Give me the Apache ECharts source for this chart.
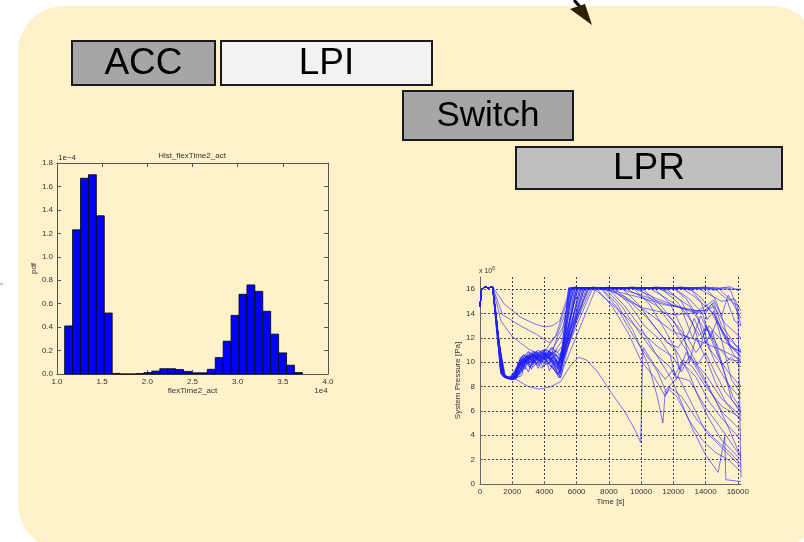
<!DOCTYPE html>
<html>
<head>
<meta charset="utf-8">
<script src="https://cdn.jsdelivr.net/npm/echarts@6/dist/echarts.min.js"></script>
<style>
  html, body { margin: 0; padding: 0; background: #ffffff; }
  #chart { width: 804px; height: 542px; }
</style>
</head>
<body>
<div id="chart"></div>
<script>
// ---- Histogram of flexTime2_act (x in 1e4, pdf in 1e-4) ----
const histBinStart = 1.0847;
const histBinWidth = 0.08773;
const histPdf = [
  0.41, 1.23, 1.67, 1.70, 1.35, 0.52, 0.005, 0.0, 0.0, 0.003,
  0.012, 0.025, 0.045, 0.045, 0.038, 0.022, 0.01, 0.01, 0.04, 0.14,
  0.28, 0.50, 0.68, 0.76, 0.705, 0.535, 0.34, 0.18, 0.075, 0.012
];
const histXTicks = [1.0, 1.5, 2.0, 2.5, 3.0, 3.5, 4.0];
const histYTicks = [0.0, 0.2, 0.4, 0.6, 0.8, 1.0, 1.2, 1.4, 1.6, 1.8];

// ---- System pressure runs: [time s, pressure 1e6 Pa] ----
const runStart = [[0, 14.6], [100, 16.0], [300, 16.2], [500, 16.1], [780, 16.2]];
const pressureRuns = [
  [[1050,13.0],[1350,9.0],[1700,8.7],[2300,8.7],[2450,10.2],[2700,9.6],[3000,10.6],[3300,9.8],[3700,10.9],[4200,11.0],[4600,10.3],[5000,9.3],[5500,16.1],[16200,16.0]],
  [[1100,12.5],[1400,8.9],[1800,8.6],[2200,8.7],[2350,10.0],[2600,9.2],[2900,10.5],[3200,9.4],[3500,10.7],[3900,9.6],[4300,10.9],[4800,9.0],[5050,9.6],[5700,16.1],[7500,16.1],[9000,15.4],[10500,14.0],[12000,12.5],[13500,11.8],[15000,11.0],[16200,10.2]],
  [[1000,13.5],[1300,9.1],[1600,8.8],[2000,8.6],[2600,8.9],[2800,10.2],[3100,9.5],[3400,10.6],[3800,9.9],[4100,10.8],[4500,9.6],[4900,8.7],[5100,9.8],[5900,16.1],[8000,16.1],[9000,15.2],[10000,14.5],[11000,14.2],[12000,13.9],[13000,14.0],[14000,14.3],[14500,14.9],[15000,13.0],[16200,10.8]],
  [[1100,12.0],[1500,8.8],[2000,8.7],[2400,9.0],[2700,10.0],[3000,9.2],[3300,10.3],[3600,9.5],[4000,10.7],[4300,9.3],[4700,10.2],[5000,9.0],[6000,16.1],[9500,16.1],[11000,15.2],[12000,14.7],[13000,14.2],[14000,14.0],[14400,14.8],[15000,12.5],[15800,10.5],[16200,10.0]],
  [[1500,14.8],[2500,13.7],[3500,13.1],[4000,12.9],[4500,13.0],[4950,13.4],[5600,16.1],[8500,16.1],[10000,15.5],[11500,14.8],[13000,14.3],[14000,14.2],[14500,14.6],[15200,13.2],[16200,12.0]],
  [[1400,13.9],[2500,13.0],[3500,12.3],[4300,11.6],[4700,12.2],[5700,16.1],[7000,16.1],[8500,15.8],[10000,15.3],[11500,14.7],[12500,14.5],[13500,14.2],[14000,14.6],[14500,14.0],[15500,11.5],[16200,10.5]],
  [[1300,13.4],[2000,12.1],[3000,11.1],[3800,10.5],[4400,11.6],[4800,12.3],[5900,16.1],[6500,16.1],[7200,15.9],[8000,15.0],[9000,13.8],[10000,12.5],[11000,11.3],[12000,10.4],[12500,9.2],[13000,10.5],[14000,9.0],[15000,7.0],[16200,5.6]],
  [[1100,11.5],[1500,8.8],[2200,8.6],[3000,8.0],[3700,7.8],[4400,8.0],[5000,8.4],[5600,9.7],[6100,10.4],[6600,10.2],[7300,9.2],[8200,7.4],[9000,5.9],[9600,4.5],[9975,3.4],[10100,10.8],[10150,11.2],[10800,9.8],[11500,8.6],[12000,9.4],[12200,8.8],[13000,8.5],[14000,6.3],[15000,4.5],[16200,2.2]],
  [[1050,12.8],[1400,8.9],[1900,8.6],[2400,9.5],[2700,10.1],[3200,10.4],[3600,9.7],[4000,10.8],[4600,9.8],[5000,9.2],[6200,16.1],[7600,16.0],[8500,14.8],[9500,12.6],[10500,9.6],[11000,7.2],[11350,5.0],[11500,7.6],[11700,8.0],[12500,7.2],[13500,5.2],[14500,3.8],[15500,2.6],[16200,1.6]],
  [[1000,13.8],[1300,9.3],[1600,8.8],[2100,8.6],[2500,9.8],[2900,10.4],[3400,10.0],[3900,10.9],[4400,10.1],[4950,9.5],[6400,16.1],[8000,16.0],[9000,14.6],[10000,12.8],[11000,10.5],[11900,8.6],[12500,6.7],[13200,4.5],[14000,2.4],[14780,0.95],[15190,3.9],[15260,0.35],[16200,0.2]],
  [[1100,12.2],[1450,8.8],[2000,8.7],[2300,9.6],[2800,10.3],[3300,10.9],[3700,10.3],[4200,11.0],[4700,10.4],[5050,10.0],[5600,16.0],[7500,16.1],[8500,14.5],[9500,12.2],[10200,10.8],[11000,9.3],[11600,7.4],[11800,8.1],[12300,8.8],[13000,7.0],[14000,4.3],[15000,3.0],[16200,1.4]],
  [[1150,11.8],[1500,8.8],[2000,8.6],[2300,9.3],[2600,10.5],[3000,9.8],[3500,10.6],[4000,10.0],[4500,10.8],[5000,9.6],[6000,16.1],[8200,16.0],[9200,14.9],[10200,13.0],[11200,11.8],[11800,10.6],[12100,8.9],[12600,10.2],[13200,9.6],[14000,8.0],[15000,6.4],[16200,5.4]],
  [[1050,13.2],[1350,9.0],[1700,8.7],[2200,8.8],[2500,10.4],[2800,9.4],[3100,10.8],[3600,10.2],[4000,11.1],[4400,10.5],[4800,12.1],[5200,13.0],[5600,16.1],[9000,16.1],[10000,15.4],[11000,14.6],[12000,13.4],[12800,12.0],[13300,13.6],[13800,12.0],[14200,13.0],[15000,11.8],[16200,10.8]],
  [[1000,13.6],[1300,9.2],[1700,8.8],[2100,8.7],[2400,9.2],[2900,10.0],[3300,9.6],[3800,10.4],[4300,9.9],[4800,11.2],[5100,11.8],[5800,16.1],[10500,16.1],[11500,15.3],[12500,14.4],[13200,12.0],[13700,13.8],[14200,12.4],[14800,10.4],[15400,9.2],[16200,8.0]],
  [[1100,12.4],[1450,8.9],[1900,8.7],[2400,9.6],[2800,9.9],[3200,10.7],[3600,10.1],[4100,10.6],[4600,9.7],[4900,9.1],[6600,16.1],[11000,16.1],[12000,15.5],[13000,14.6],[13800,13.0],[14300,11.0],[15000,9.8],[15600,10.4],[16200,9.6]],
  [[1200,11.2],[1550,8.8],[2000,8.7],[2350,9.9],[2700,10.6],[3100,10.0],[3500,10.8],[4000,10.3],[4400,11.2],[4800,10.8],[5200,11.5],[6800,16.1],[12000,16.1],[13000,15.2],[13800,14.0],[14300,12.0],[14700,13.4],[15200,12.2],[16200,11.0]],
  [[1050,12.9],[1400,9.0],[1800,8.7],[2300,8.8],[2600,9.8],[3000,10.8],[3500,10.4],[4000,10.9],[4500,10.2],[5000,9.9],[7000,16.1],[13500,16.1],[14200,15.6],[15000,15.0],[15800,15.2],[16200,14.2]],
  [[1000,14.0],[1250,9.4],[1600,8.7],[2100,8.6],[2500,9.0],[2900,10.2],[3300,10.7],[3800,9.5],[4200,10.0],[4700,9.3],[5000,8.7],[5200,9.6],[7200,16.1],[14500,16.1],[15300,15.2],[15800,13.4],[16200,13.0]],
  [[1100,12.7],[1450,8.9],[2000,8.7],[2500,10.1],[3000,10.9],[3400,10.2],[3800,10.8],[4300,9.8],[4800,9.4],[5900,16.1],[7800,16.0],[8800,14.6],[9800,12.6],[10800,10.8],[11800,9.6],[12200,8.6],[12600,9.9],[13400,8.8],[14200,6.8],[15000,5.4],[16200,3.6]],
  [[1150,12.0],[1500,8.8],[2100,8.6],[2500,9.4],[2900,10.0],[3300,10.8],[3700,10.1],[4100,10.7],[4600,10.0],[5000,9.6],[6200,16.1],[10000,16.1],[11000,15.0],[12000,13.4],[12800,11.5],[13500,9.8],[14000,10.8],[14500,9.4],[15200,7.6],[16200,6.0]],
  [[1050,13.4],[1350,9.1],[1800,8.7],[2200,8.8],[2600,10.2],[3100,10.6],[3500,9.9],[4000,10.5],[4400,9.6],[4900,9.0],[6500,16.1],[11500,16.1],[12500,15.0],[13200,13.2],[13700,11.2],[14000,13.0],[14600,11.4],[15200,9.0],[15700,7.2],[16200,6.2]],
  [[1100,12.3],[1400,8.9],[1900,8.6],[2400,9.0],[2800,10.4],[3200,10.0],[3700,10.8],[4200,10.4],[4700,11.0],[5050,10.4],[6000,16.1],[12500,16.1],[13300,15.4],[14000,14.6],[14500,15.1],[15000,13.8],[15500,11.4],[16200,10.4]],
  [[1000,13.9],[1300,9.2],[1600,8.7],[2000,8.6],[2500,9.6],[3000,10.1],[3500,10.9],[3900,10.2],[4400,10.7],[4900,9.8],[6300,16.1],[9500,16.1],[10500,14.8],[11500,12.6],[12200,10.9],[13000,9.0],[13600,7.0],[14200,5.4],[15000,3.6],[16200,2.0]],
  [[1100,12.6],[1450,8.9],[1900,8.7],[2300,9.2],[2700,10.3],[3100,9.6],[3600,10.4],[4100,9.8],[4600,10.4],[5000,9.5],[6700,16.1],[13000,16.1],[13700,15.0],[14100,13.5],[14500,14.2],[15000,11.8],[15600,8.6],[16200,7.4]],
  [[1200,11.5],[1600,8.7],[2200,8.6],[2600,9.6],[3000,10.4],[3400,10.0],[3900,10.7],[4400,10.2],[4900,9.7],[5800,16.1],[14000,16.1],[14600,15.2],[15000,13.8],[15400,15.5],[15800,14.6],[16200,13.6]],
  [[1000,13.0],[1300,9.0],[1600,8.7],[2200,8.7],[2500,10.0],[3000,10.4],[3500,9.8],[4000,10.6],[4500,10.0],[5000,9.2],[5600,16.1],[6000,16.2],[6500,15.9],[7000,16.2],[7500,16.0],[8000,16.2],[8500,15.9],[9000,16.1],[9500,16.2],[10000,15.9],[10500,16.1],[11000,16.2],[11500,15.9],[12000,16.1],[12500,16.2],[13000,15.9],[13500,16.1],[14000,16.2],[14500,15.9],[15000,16.1],[15500,16.2],[16000,15.9],[16200,16.0]],
  [[1050,12.6],[1400,8.9],[1800,8.7],[2300,9.4],[2700,10.6],[3100,10.2],[3600,11.0],[4000,10.5],[4500,11.2],[5000,10.0],[5500,16.1],[7200,16.1],[8200,14.6],[9200,12.4],[10000,10.1],[10800,8.8],[11500,7.2],[11700,7.8],[12200,7.2],[13000,5.2],[13800,3.6],[14600,2.6],[15400,2.0],[16200,1.0]],
  [[1150,11.9],[1500,8.8],[2100,8.7],[2500,9.9],[3000,10.6],[3500,10.3],[3900,11.0],[4400,10.4],[4900,10.0],[6100,16.1],[8800,16.1],[9800,14.8],[10800,13.0],[11600,11.6],[12300,11.2],[12800,12.2],[13400,10.8],[14000,11.8],[14600,10.0],[15400,8.2],[16200,7.0]],
  [[1100,12.1],[1450,8.8],[2000,8.6],[2400,9.7],[2900,10.2],[3400,10.9],[3800,10.3],[4300,10.9],[4800,10.5],[5200,11.0],[6900,16.1],[15500,16.1],[15800,15.0],[16000,14.0],[16200,13.0]],
  [[1000,13.3],[1300,9.1],[1700,8.8],[2200,8.7],[2600,9.3],[3000,10.0],[3400,10.6],[3900,9.9],[4300,10.4],[4800,9.2],[5000,8.8],[6400,16.1],[12000,16.1],[12800,15.2],[13500,13.8],[14000,11.6],[14400,12.6],[15000,10.0],[15600,7.0],[16200,5.8]],
  [[1050,12.9],[1350,9.0],[1800,8.7],[2400,9.8],[2900,10.5],[3400,10.1],[3900,10.8],[4400,10.3],[4900,9.4],[5700,16.1],[13000,16.1],[13800,15.2],[14400,14.0],[15000,12.6],[15600,11.2],[16200,10.9]],
  [[1100,12.2],[1450,8.9],[2000,8.7],[2400,9.5],[2800,10.1],[3300,10.7],[3800,10.0],[4300,10.6],[4800,9.7],[6100,16.1],[14800,16.1],[15400,15.3],[15800,14.8],[16000,14.7],[16100,8.0],[16200,0.5]],
  [[1000,13.7],[1300,9.2],[1700,8.7],[2300,9.0],[2700,10.3],[3200,9.9],[3700,10.5],[4200,10.1],[4700,10.6],[5100,10.2],[6300,16.1],[10800,16.1],[11800,14.8],[12600,12.6],[13000,10.0],[13400,12.0],[14000,10.4],[14600,8.4],[15300,6.6],[16200,5.2]],
  [[1150,11.7],[1550,8.8],[2100,8.6],[2500,9.2],[3000,10.3],[3500,10.7],[4000,10.2],[4500,10.9],[5000,10.1],[6700,16.1],[11200,16.1],[12200,15.0],[13000,13.6],[13600,12.2],[14100,12.9],[14800,11.2],[15500,10.2],[16200,10.1]],
  [[1050,13.1],[1400,9.0],[1900,8.7],[2300,9.3],[2800,10.6],[3300,10.3],[3700,10.9],[4200,10.6],[4600,11.3],[5100,12.4],[5600,16.1],[8300,16.1],[9300,15.0],[10400,13.6],[11400,12.0],[12100,11.0],[12400,9.4],[12800,10.8],[13500,9.4],[14300,7.6],[15100,5.8],[16200,4.4]],
  [[1100,12.4],[1450,8.9],[1950,8.6],[2500,10.0],[3000,10.2],[3500,10.9],[3900,10.4],[4400,10.8],[4900,9.9],[6500,16.1],[9800,16.1],[10800,15.0],[11800,13.2],[12600,11.4],[13200,10.2],[13800,9.0],[14500,7.2],[15300,5.0],[16000,2.8],[16200,2.3]]
];
const timeTicks = [0, 2000, 4000, 6000, 8000, 10000, 12000, 14000, 16000];
const pressureTicks = [0, 2, 4, 6, 8, 10, 12, 14, 16];

// ---- Phase boxes ----
const phaseLabels = ['ACC', 'LPI', 'Switch', 'LPR'];

const chart = echarts.init(document.getElementById('chart'), null, { renderer: 'canvas' });

const labelFont = "'Liberation Sans', Arial, sans-serif";
const tickText = { fontSize: 8, color: '#333', fontFamily: labelFont };

function boxEl(x, y, w, h, fill, text, size) {
  return {
    type: 'group', z: 50,
    children: [
      { type: 'rect', shape: { x: x, y: y, width: w, height: h },
        style: { fill: fill, stroke: '#1a1a1a', lineWidth: 2 } },
      { type: 'text', x: x + w / 2, y: y + h / 2 + 1,
        style: { text: text, fill: '#000', font: size + 'px ' + labelFont,
                 textAlign: 'center', textVerticalAlign: 'middle' } }
    ]
  };
}

const histData = histPdf.map((v, i) => [
  histBinStart + i * histBinWidth,
  histBinStart + (i + 1) * histBinWidth,
  v
]);

const lineSeries = pressureRuns.map(run => ({
  type: 'line',
  xAxisIndex: 1,
  yAxisIndex: 1,
  data: runStart.concat(run),
  showSymbol: false,
  silent: true,
  lineStyle: { color: 'rgba(30,30,255,0.6)', width: 1 },
  z: 3
}));

const option = {
  backgroundColor: '#ffffff',
  animation: false,
  graphic: [
    { type: 'rect', z: -10, silent: true,
      shape: { x: 18, y: 6, width: 800, height: 544, r: 46 },
      style: { fill: '#fff1c9' } },
    // arrow entering from the top
    { type: 'line', z: 60, shape: { x1: 574, y1: 0, x2: 581, y2: 8 },
      style: { stroke: '#000', lineWidth: 3 } },
    { type: 'polygon', z: 60, shape: { points: [[570, 9], [592, 25], [585, 4]] },
      style: { fill: '#2b2206' } },
    // small mark on the left margin
    { type: 'rect', z: 60, shape: { x: 0, y: 283, width: 3, height: 2 },
      style: { fill: '#f6b4b4' } },
    boxEl(72, 41, 143, 44, '#a6a6a6', phaseLabels[0], 37),
    boxEl(221, 41, 211, 44, '#f2f2f2', phaseLabels[1], 37),
    boxEl(403, 91, 170, 49, '#a6a6a6', phaseLabels[2], 35),
    boxEl(516, 147, 266, 42, '#bfbfbf', phaseLabels[3], 37),
    // histogram annotations
    { type: 'text', x: 192, y: 156, z: 20,
      style: { text: 'Hist_flexTime2_act', font: '8px ' + labelFont, fill: '#333',
               textAlign: 'center', textVerticalAlign: 'middle' } },
    { type: 'text', x: 58, y: 158, z: 20,
      style: { text: '1e\u22124', font: '8px ' + labelFont, fill: '#333',
               textAlign: 'left', textVerticalAlign: 'middle' } },
    { type: 'text', x: 321, y: 391, z: 20,
      style: { text: '1e4', font: '8px ' + labelFont, fill: '#333',
               textAlign: 'center', textVerticalAlign: 'middle' } },
    // pressure chart exponent
    { type: 'text', x: 479, y: 271, z: 20,
      style: { text: '{a|x 10}{b|6}', font: '7px ' + labelFont, fill: '#333',
               textAlign: 'left', textVerticalAlign: 'middle',
               rich: { a: { fontSize: 7, fill: '#333', fontFamily: labelFont },
                       b: { fontSize: 5, fill: '#333', fontFamily: labelFont, verticalAlign: 'top', padding: [0, 0, 4, 0] } } } }
  ],
  grid: [
    { left: 57, top: 163, width: 271, height: 211 },
    { left: 480, top: 277, width: 261, height: 207 }
  ],
  xAxis: [
    { gridIndex: 0, type: 'value', min: 1, max: 4, interval: 0.5,
      name: 'flexTime2_act', nameLocation: 'middle', nameGap: 13,
      nameTextStyle: { fontSize: 8, color: '#333', fontFamily: labelFont },
      axisLine: { onZero: false, lineStyle: { color: '#555', width: 1 } },
      axisTick: { inside: true, length: 4, lineStyle: { color: '#555' } },
      axisLabel: Object.assign({ margin: 4, formatter: v => v.toFixed(1) }, tickText),
      splitLine: { show: false } },
    { gridIndex: 1, type: 'value', min: 0, max: 16200, interval: 2000,
      name: 'Time [s]', nameLocation: 'middle', nameGap: 14,
      nameTextStyle: { fontSize: 8, color: '#333', fontFamily: labelFont },
      axisLine: { onZero: false, lineStyle: { color: '#666', width: 1 } },
      axisTick: { inside: true, length: 3, lineStyle: { color: '#666' } },
      axisLabel: Object.assign({ margin: 4, showMaxLabel: false,
        formatter: v => (timeTicks.indexOf(v) >= 0 ? String(v) : '') }, tickText),
      splitLine: { show: true, showMinLine: false, showMaxLine: false,
        lineStyle: { color: '#444', type: [2, 2], width: 1 } } },
    { gridIndex: 0, type: 'value', min: 1, max: 4, interval: 0.5, position: 'top',
      axisLine: { onZero: false, lineStyle: { color: '#555', width: 1 } },
      axisTick: { inside: true, length: 4, lineStyle: { color: '#555' } },
      axisLabel: { show: false }, splitLine: { show: false } }
  ],
  yAxis: [
    { gridIndex: 0, type: 'value', min: 0, max: 1.8, interval: 0.2,
      name: 'pdf', nameLocation: 'middle', nameGap: 19, nameRotate: 90,
      nameTextStyle: { fontSize: 8, color: '#333', fontFamily: labelFont },
      axisLine: { onZero: false, lineStyle: { color: '#555', width: 1 } },
      axisTick: { inside: true, length: 4, lineStyle: { color: '#555' } },
      axisLabel: Object.assign({ margin: 4,
        formatter: v => (histYTicks.some(t => Math.abs(t - v) < 1e-9) ? v.toFixed(1) : '') }, tickText),
      splitLine: { show: false } },
    { gridIndex: 1, type: 'value', min: 0, max: 17, interval: 2,
      name: 'System Pressure [Pa]', nameLocation: 'middle', nameGap: 17, nameRotate: 90,
      nameTextStyle: { fontSize: 8, color: '#333', fontFamily: labelFont },
      axisLine: { onZero: false, lineStyle: { color: '#666', width: 1 } },
      axisTick: { inside: true, length: 3, lineStyle: { color: '#666' } },
      axisLabel: Object.assign({ margin: 5, showMaxLabel: false,
        formatter: v => (pressureTicks.indexOf(v) >= 0 ? String(v) : '') }, tickText),
      splitLine: { show: true, showMinLine: false, showMaxLine: false,
        lineStyle: { color: '#444', type: [2, 2], width: 1 } } },
    { gridIndex: 0, type: 'value', min: 0, max: 1.8, interval: 0.2, position: 'right',
      axisLine: { onZero: false, lineStyle: { color: '#555', width: 1 } },
      axisTick: { inside: true, length: 4, lineStyle: { color: '#555' } },
      axisLabel: { show: false }, splitLine: { show: false } }
  ],
  series: [
    {
      type: 'custom',
      xAxisIndex: 0,
      yAxisIndex: 0,
      data: histData,
      silent: true,
      z: 3,
      renderItem: function (params, api) {
        const top = api.coord([api.value(0), api.value(2)]);
        const base = api.coord([api.value(1), 0]);
        return {
          type: 'rect',
          shape: { x: top[0], y: top[1], width: base[0] - top[0], height: base[1] - top[1] },
          style: { fill: '#0000ff', stroke: '#000000', lineWidth: 0.8 }
        };
      }
    }
  ].concat(lineSeries)
};

chart.setOption(option);
</script>
</body>
</html>
